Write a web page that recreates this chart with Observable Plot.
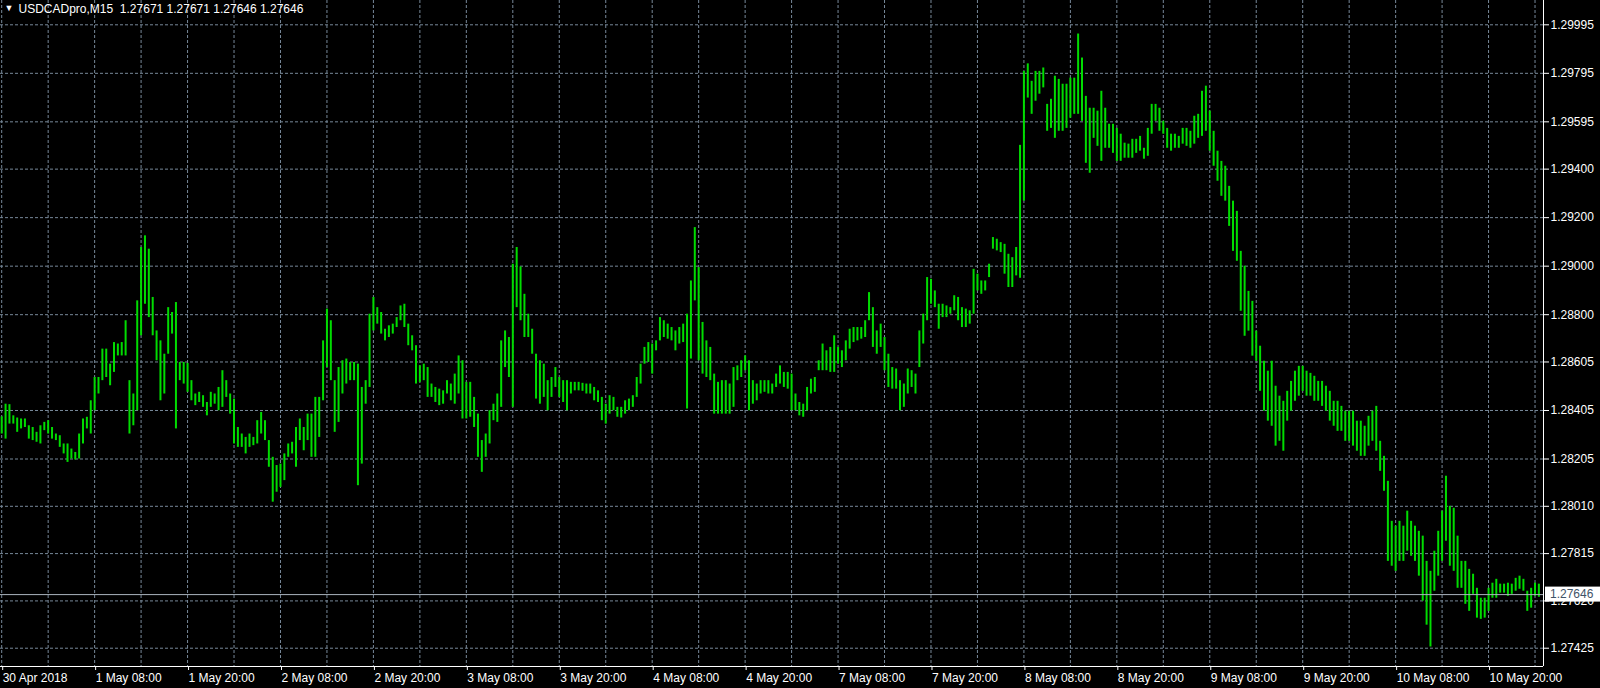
<!DOCTYPE html>
<html>
<head>
<meta charset="utf-8">
<script src="https://cdn.jsdelivr.net/npm/d3@7"></script>
<script src="https://cdn.jsdelivr.net/npm/@observablehq/plot@0.6"></script>
<style>
  html, body { margin: 0; padding: 0; background: #000; }
  #chart svg { display: block; }
</style>
</head>
<body>
<div id="chart"></div>
<script>
// ---- Header ----
const symbolHeader = "USDCADpro,M15  1.27671 1.27671 1.27646 1.27646";
const lastPrice = 1.27646;

// ---- Axis tick labels ----
const priceTicks = [1.29995, 1.29795, 1.29595, 1.29400, 1.29200, 1.29000, 1.28800,
                    1.28605, 1.28405, 1.28205, 1.28010, 1.27815, 1.27620, 1.27425];
const timeLabels = ["30 Apr 2018", "1 May 08:00", "1 May 20:00", "2 May 08:00", "2 May 20:00",
                    "3 May 08:00", "3 May 20:00", "4 May 08:00", "4 May 20:00", "7 May 08:00",
                    "7 May 20:00", "8 May 08:00", "8 May 20:00", "9 May 08:00", "9 May 20:00",
                    "10 May 08:00", "10 May 20:00"];
// bar index (M15 bars) of each time label, and of the unlabeled 6-hour grid lines
const timeLabelBars = timeLabels.map((_, k) => k * 48);
const gridBars = d3.range(0, 793, 24);

// ---- Price data: high / low per 30-minute step (every 2nd M15 bar) ----
const highs = [
1.28379,1.28431,1.28429,1.28383,1.28374,1.28370,1.28370,1.28342,1.28335,1.28315,
1.28342,1.28356,1.28363,1.28335,1.28308,1.28301,1.28267,1.28267,1.28246,1.28232,
1.28308,1.28370,1.28377,1.28445,1.28541,1.28541,1.28658,1.28658,1.28596,1.28685,
1.28679,1.28685,1.28775,1.28528,1.28473,1.28857,1.29077,1.29125,1.29070,1.28871,
1.28733,1.28692,1.28637,1.28829,1.28809,1.28850,1.28603,1.28603,1.28599,1.28528,
1.28473,1.28480,1.28466,1.28438,1.28480,1.28473,1.28500,1.28569,1.28528,1.28473,
1.28452,1.28335,1.28308,1.28294,1.28308,1.28294,1.28363,1.28397,1.28363,1.28281,
1.28212,1.28178,1.28184,1.28226,1.28267,1.28274,1.28335,1.28370,1.28335,1.28390,
1.28390,1.28459,1.28459,1.28692,1.28823,1.28775,1.28528,1.28582,1.28610,1.28617,
1.28603,1.28603,1.28596,1.28500,1.28528,1.28802,1.28871,1.28829,1.28809,1.28740,
1.28754,1.28761,1.28788,1.28836,1.28843,1.28761,1.28713,1.28672,1.28589,1.28596,
1.28582,1.28514,1.28500,1.28493,1.28486,1.28528,1.28514,1.28555,1.28630,1.28610,
1.28521,1.28521,1.28459,1.28390,1.28281,1.28308,1.28404,1.28431,1.28473,1.28692,
1.28733,1.28706,1.29008,1.29077,1.28997,1.28884,1.28802,1.28740,1.28637,1.28610,
1.28596,1.28528,1.28541,1.28582,1.28541,1.28528,1.28528,1.28521,1.28521,1.28521,
1.28517,1.28514,1.28514,1.28500,1.28486,1.28459,1.28431,1.28466,1.28459,1.28418,
1.28418,1.28445,1.28452,1.28466,1.28541,1.28596,1.28665,1.28685,1.28679,1.28692,
1.28788,1.28775,1.28761,1.28747,1.28733,1.28747,1.28761,1.28802,1.28939,1.29159,
1.28994,1.28768,1.28692,1.28665,1.28555,1.28521,1.28528,1.28528,1.28514,1.28582,
1.28589,1.28610,1.28630,1.28610,1.28528,1.28514,1.28528,1.28528,1.28528,1.28514,
1.28555,1.28589,1.28562,1.28562,1.28555,1.28473,1.28438,1.28431,1.28500,1.28534,
1.28541,1.28610,1.28679,1.28651,1.28665,1.28713,1.28665,1.28651,1.28692,1.28740,
1.28747,1.28747,1.28747,1.28775,1.28891,1.28829,1.28733,1.28761,1.28706,1.28637,
1.28582,1.28576,1.28528,1.28514,1.28576,1.28569,1.28555,1.28733,1.28802,1.28953,
1.28946,1.28898,1.28843,1.28843,1.28836,1.28829,1.28878,1.28871,1.28829,1.28823,
1.28816,1.28987,1.28967,1.28939,1.28939,1.29008,1.29118,1.29111,1.29097,1.29090,
1.29049,1.29035,1.29077,1.29498,1.29803,1.29834,1.29762,1.29803,1.29803,1.29817,
1.29667,1.29688,1.29783,1.29770,1.29750,1.29750,1.29775,1.29775,1.29957,1.29858,
1.29700,1.29651,1.29651,1.29639,1.29721,1.29651,1.29585,1.29585,1.29568,1.29544,
1.29507,1.29503,1.29523,1.29523,1.29535,1.29486,1.29568,1.29667,1.29667,1.29651,
1.29597,1.29568,1.29544,1.29544,1.29535,1.29568,1.29568,1.29556,1.29618,1.29626,
1.29721,1.29742,1.29639,1.29556,1.29474,1.29432,1.29412,1.29329,1.29268,1.29226,
1.29061,1.29000,1.28896,1.28855,1.28732,1.28670,1.28608,1.28567,1.28608,1.28505,
1.28464,1.28443,1.28484,1.28525,1.28567,1.28587,1.28587,1.28567,1.28558,1.28546,
1.28525,1.28525,1.28505,1.28484,1.28443,1.28443,1.28422,1.28402,1.28402,1.28402,
1.28361,1.28361,1.28340,1.28381,1.28402,1.28422,1.28278,1.28216,1.28113,1.27948,
1.27928,1.27948,1.27928,1.27990,1.27948,1.27928,1.27907,1.27887,1.27783,1.27742,
1.27825,1.27907,1.27990,1.28134,1.28010,1.28002,1.27887,1.27783,1.27783,1.27750,
1.27730,1.27672,1.27631,1.27631,1.27672,1.27693,1.27709,1.27689,1.27689,1.27693,
1.27689,1.27713,1.27722,1.27709,1.27660,1.27672,1.27693,1.27689
];
const lows = [
1.28308,1.28287,1.28349,1.28349,1.28315,1.28329,1.28335,1.28287,1.28281,1.28274,
1.28267,1.28322,1.28308,1.28287,1.28281,1.28253,1.28226,1.28191,1.28205,1.28201,
1.28205,1.28267,1.28329,1.28308,1.28404,1.28473,1.28528,1.28541,1.28507,1.28562,
1.28630,1.28630,1.28630,1.28308,1.28342,1.28404,1.28713,1.28843,1.28788,1.28713,
1.28610,1.28445,1.28473,1.28637,1.28720,1.28329,1.28528,1.28514,1.28480,1.28445,
1.28425,1.28438,1.28418,1.28383,1.28418,1.28431,1.28404,1.28418,1.28459,1.28390,
1.28267,1.28253,1.28253,1.28226,1.28253,1.28260,1.28267,1.28308,1.28281,1.28171,
1.28027,1.28068,1.28088,1.28116,1.28212,1.28226,1.28171,1.28281,1.28239,1.28281,
1.28212,1.28212,1.28294,1.28445,1.28582,1.28528,1.28315,1.28356,1.28473,1.28514,
1.28528,1.28528,1.28095,1.28184,1.28431,1.28500,1.28733,1.28761,1.28720,1.28692,
1.28706,1.28720,1.28747,1.28775,1.28747,1.28672,1.28651,1.28514,1.28521,1.28528,
1.28459,1.28459,1.28438,1.28425,1.28431,1.28473,1.28445,1.28431,1.28473,1.28370,
1.28370,1.28377,1.28335,1.28212,1.28150,1.28212,1.28267,1.28363,1.28356,1.28418,
1.28582,1.28541,1.28418,1.28829,1.28775,1.28706,1.28706,1.28637,1.28452,1.28431,
1.28459,1.28404,1.28459,1.28500,1.28459,1.28438,1.28404,1.28473,1.28486,1.28486,
1.28484,1.28473,1.28473,1.28445,1.28438,1.28363,1.28349,1.28390,1.28404,1.28377,
1.28374,1.28390,1.28404,1.28418,1.28459,1.28514,1.28596,1.28603,1.28555,1.28651,
1.28692,1.28706,1.28699,1.28692,1.28651,1.28679,1.28685,1.28411,1.28617,1.28857,
1.28610,1.28555,1.28541,1.28528,1.28390,1.28390,1.28390,1.28390,1.28390,1.28418,
1.28528,1.28541,1.28569,1.28404,1.28431,1.28445,1.28473,1.28480,1.28473,1.28473,
1.28500,1.28514,1.28500,1.28493,1.28404,1.28404,1.28383,1.28377,1.28404,1.28473,
1.28480,1.28569,1.28569,1.28569,1.28562,1.28562,1.28596,1.28582,1.28610,1.28658,
1.28685,1.28692,1.28699,1.28706,1.28775,1.28665,1.28637,1.28665,1.28569,1.28500,
1.28493,1.28493,1.28404,1.28418,1.28473,1.28500,1.28473,1.28582,1.28679,1.28775,
1.28843,1.28829,1.28740,1.28788,1.28788,1.28802,1.28816,1.28775,1.28747,1.28747,
1.28761,1.28802,1.28898,1.28884,1.28898,1.28953,1.29070,1.29063,1.29056,1.28967,
1.28912,1.28912,1.28960,1.28950,1.29268,1.29693,1.29626,1.29680,1.29709,1.29735,
1.29556,1.29568,1.29527,1.29556,1.29556,1.29568,1.29610,1.29626,1.29626,1.29597,
1.29424,1.29383,1.29527,1.29494,1.29432,1.29486,1.29486,1.29465,1.29432,1.29432,
1.29445,1.29445,1.29445,1.29465,1.29474,1.29441,1.29453,1.29544,1.29597,1.29556,
1.29544,1.29486,1.29474,1.29486,1.29486,1.29503,1.29494,1.29486,1.29503,1.29527,
1.29535,1.29556,1.29474,1.29412,1.29350,1.29288,1.29268,1.29164,1.29061,1.29020,
1.28814,1.28711,1.28732,1.28629,1.28608,1.28484,1.28402,1.28361,1.28340,1.28258,
1.28278,1.28237,1.28361,1.28402,1.28443,1.28464,1.28484,1.28464,1.28464,1.28443,
1.28443,1.28422,1.28402,1.28361,1.28340,1.28319,1.28319,1.28278,1.28278,1.28258,
1.28237,1.28216,1.28216,1.28258,1.28278,1.28237,1.28154,1.28072,1.27783,1.27763,
1.27742,1.27783,1.27783,1.27825,1.27804,1.27783,1.27722,1.27619,1.27520,1.27430,
1.27660,1.27722,1.27783,1.27866,1.27763,1.27742,1.27672,1.27672,1.27606,1.27577,
1.27647,1.27549,1.27544,1.27549,1.27577,1.27631,1.27631,1.27652,1.27652,1.27639,
1.27647,1.27660,1.27668,1.27660,1.27577,1.27590,1.27639,1.27635
];

const bars = highs.map((h, j) => ({bar: 2 * j, high: h, low: lows[j]}));

// ---- Chart ----
const xDomain = [-0.62, 796.38];
const yDomain = [1.273496, 1.300952];
const gridStyle = {stroke: "#778899", strokeOpacity: 1, strokeDasharray: "3,2"};
const fontFamily = "'Liberation Sans', Arial, sans-serif";

const chart = Plot.plot({
  width: 1600,
  height: 688,
  marginLeft: 0,
  marginRight: 57,
  marginTop: 0,
  marginBottom: 22,
  style: {background: "#000", color: "#fff", fontFamily, fontSize: "12px"},
  x: {type: "linear", domain: xDomain},
  y: {type: "linear", domain: yDomain},
  marks: [
    Plot.gridY(priceTicks, gridStyle),
    Plot.gridX(gridBars, gridStyle),
    Plot.ruleX(bars, {x: "bar", y1: "low", y2: "high", stroke: "#00dc00", strokeWidth: 2}),
    Plot.ruleY([lastPrice], {stroke: "#aab4be", strokeWidth: 1}),
    Plot.ruleY([yDomain[0]], {stroke: "#fff"}),
    Plot.ruleX([xDomain[1]], {stroke: "#fff"}),
    Plot.axisY(priceTicks, {anchor: "right", tickFormat: d3.format(".5f"), tickSize: 5, tickPadding: 2,
      color: "#fff", label: null, fontSize: 12}),
    Plot.axisX(timeLabelBars, {anchor: "bottom", tickFormat: d => timeLabels[timeLabelBars.indexOf(d)],
      tickSize: 4, tickPadding: 3, textAnchor: "start", dx: 1, color: "#fff", label: null, fontSize: 12}),
    Plot.text(["\u25BC"], {text: d => d, frameAnchor: "top-left", dx: 4, dy: 4, textAnchor: "start",
      lineAnchor: "top", fill: "#fff", fontSize: 9}),
    Plot.text([symbolHeader], {text: d => d, frameAnchor: "top-left", dx: 18, dy: 4, textAnchor: "start",
      lineAnchor: "top", fill: "#fff", fontSize: 12})
  ]
});

document.getElementById("chart").appendChild(chart);

// current-price label box on the price axis, positioned through the y scale
const svg = d3.select(chart);
const yPos = chart.scale("y").apply(lastPrice);
const g = svg.append("g");
g.append("rect").attr("x", 1545).attr("y", yPos - 7.5).attr("width", 55).attr("height", 15).attr("fill", "#fff");
g.append("text").attr("x", 1550).attr("y", yPos).attr("dy", "0.35em").attr("fill", "#3f5367")
  .attr("text-anchor", "start").attr("font-size", 12).attr("font-family", fontFamily)
  .text(d3.format(".5f")(lastPrice));
</script>
</body>
</html>
